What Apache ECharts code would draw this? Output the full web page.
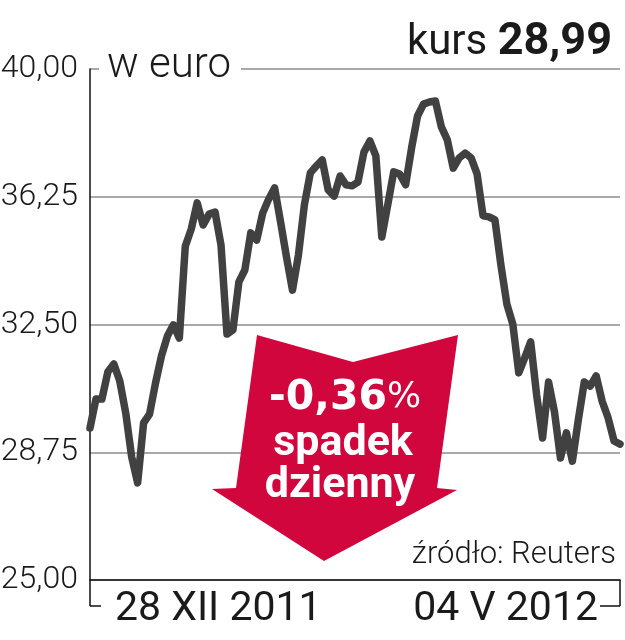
<!DOCTYPE html>
<html><head><meta charset="utf-8">
<script src="https://cdn.jsdelivr.net/npm/echarts@6/dist/echarts.min.js"></script>
<style>html,body{margin:0;padding:0;background:#fff}#c{width:625px;height:640px}</style>
</head><body><div id="c"></div>
<script>
// Share price in EUR, daily closes 28 XII 2011 – 04 V 2012
const values = [
  29.46,30.31,30.31,31.11,31.34,30.84,29.90,28.61,27.85,29.61,
  29.87,30.78,31.58,32.16,32.49,32.10,34.80,35.30,36.07,35.42,
  35.74,35.80,34.83,32.22,32.34,33.75,34.10,35.19,34.98,35.77,
  36.18,36.51,35.51,34.48,33.51,34.54,36.01,36.95,37.15,37.33,
  36.45,36.27,36.86,36.60,36.57,36.68,37.56,37.89,37.45,35.07,
  36.01,36.98,36.92,36.60,37.68,38.62,38.97,39.03,39.06,38.30,
  37.92,37.09,37.39,37.53,37.39,36.92,35.69,35.66,35.57,34.25,
  33.10,32.51,31.08,31.52,31.99,30.43,29.17,30.81,29.93,28.58,
  29.32,28.49,29.70,30.81,30.69,30.99,30.25,29.76,29.08,28.99
];
const yTicks = [25, 28.75, 32.5, 36.25, 40];
const dateLabels = ['28 XII 2011', '04 V 2012'];
const unitLabel = 'w euro';
const titleWord = 'kurs';
const priceLabel = '28,99';
const changeLabel = '-0,36';
const changeLines = ['spadek', 'dzienny'];
const sourceLabel = 'źródło: Reuters';
const days = values.map((_, i) => i);

const chart = echarts.init(document.getElementById('c'), null, {renderer: 'canvas'});
const INK = '#1a1a1a';
chart.setOption({
  animation: false,
  grid: {left: 90, right: 5, top: 69, bottom: 60, outerBoundsMode: 'none'},
  xAxis: {
    type: 'category', data: days, boundaryGap: false,
    axisLine: {show: true, lineStyle: {color: '#111', width: 1.5}},
    axisTick: {show: true, length: 26, interval: (i) => i === 0 || i === days.length - 1,
      lineStyle: {color: '#111', width: 1.5}},
    axisLabel: {show: false},
    splitLine: {show: false}
  },
  yAxis: {
    type: 'value', min: yTicks[0], max: yTicks[yTicks.length - 1], interval: yTicks[1] - yTicks[0],
    axisLine: {show: true, lineStyle: {color: '#111', width: 1.5}},
    axisTick: {show: false},
    axisLabel: {margin: 12, fontFamily: 'Roboto', fontWeight: 300, fontSize: 32, color: INK,
      formatter: v => v.toFixed(2).replace('.', ',')},
    splitLine: {show: true, lineStyle: {color: '#8c8c8c', width: 1.5}}
  },
  series: [{
    type: 'line', data: values, symbol: 'none', z: 3,
    lineStyle: {color: '#414141', width: 7.5, join: 'round', cap: 'round'}
  }]
});

const p0 = chart.convertToPixel({gridIndex: 0}, [0, yTicks[0]]);
const p1 = chart.convertToPixel({gridIndex: 0}, [days.length - 1, yTicks[0]]);
const pTop = chart.convertToPixel({gridIndex: 0}, [0, yTicks[yTicks.length - 1]]);
const tickEnd = p0[1] + 26;

chart.setOption({
  graphic: [
    {type: 'text', z: 50, x: 612, y: 43, style: {
      text: '{a|' + titleWord + ' }{b|' + priceLabel + '}', align: 'right', verticalAlign: 'middle',
      rich: {
        a: {fontFamily: 'Roboto', fontSize: 42, fontWeight: 400, fill: INK},
        b: {fontFamily: 'Roboto', fontSize: 45, fontWeight: 'bold', fill: INK}
      }}},
    {type: 'text', z: 50, x: pTop[0] + 9, y: pTop[1] - 3, style: {
      text: unitLabel, fontFamily: 'Roboto', fontWeight: 300, fontSize: 42, fill: INK,
      align: 'left', verticalAlign: 'middle', backgroundColor: '#fff', padding: [0, 10, 0, 8]}},
    {type: 'text', z: 50, x: 616, y: 555, style: {
      text: sourceLabel, fontFamily: 'Roboto', fontWeight: 300, fontSize: 31, fill: INK,
      align: 'right', verticalAlign: 'middle'}},
    {type: 'text', z: 50, x: p0[0] + 25, y: tickEnd + 4, style: {
      text: dateLabels[0], fontFamily: 'Roboto', fontWeight: 400, fontSize: 41, fill: INK,
      align: 'left', verticalAlign: 'middle'}},
    {type: 'text', z: 50, x: p1[0] - 22, y: tickEnd + 4, style: {
      text: dateLabels[1], fontFamily: 'Roboto', fontWeight: 400, fontSize: 41, fill: INK,
      align: 'right', verticalAlign: 'middle'}},
    {type: 'line', z: 50, shape: {x1: p0[0], y1: tickEnd, x2: p0[0] + 11, y2: tickEnd},
      style: {stroke: '#111', lineWidth: 1.5}},
    {type: 'line', z: 50, shape: {x1: p1[0] - 20, y1: tickEnd, x2: p1[0], y2: tickEnd},
      style: {stroke: '#111', lineWidth: 1.5}},
    {type: 'polygon', z: 40, shape: {points: [
      [257, 335], [353, 362], [458, 335], [437, 488], [457, 490], [324, 561], [212, 489], [236, 488]
    ]}, style: {fill: '#d0063d'}},
    {type: 'text', z: 50, x: 345, y: 398, style: {
      text: '{a|' + changeLabel + '}{b|%}', align: 'center', verticalAlign: 'middle',
      rich: {
        a: {fontFamily: 'DejaVu Sans', fontWeight: 'bold', fontSize: 41, fill: '#fff'},
        b: {fontFamily: 'DejaVu Sans', fontWeight: 'normal', fontSize: 36, fill: '#fff'}
      }}},
    {type: 'text', z: 50, x: 343, y: 444, style: {
      text: changeLines[0], fontFamily: 'Roboto', fontWeight: 'bold', fontSize: 43, fill: '#fff',
      align: 'center', verticalAlign: 'middle'}},
    {type: 'text', z: 50, x: 340, y: 486, style: {
      text: changeLines[1], fontFamily: 'Roboto', fontWeight: 'bold', fontSize: 43, fill: '#fff',
      align: 'center', verticalAlign: 'middle'}}
  ]
});
</script></body></html>
